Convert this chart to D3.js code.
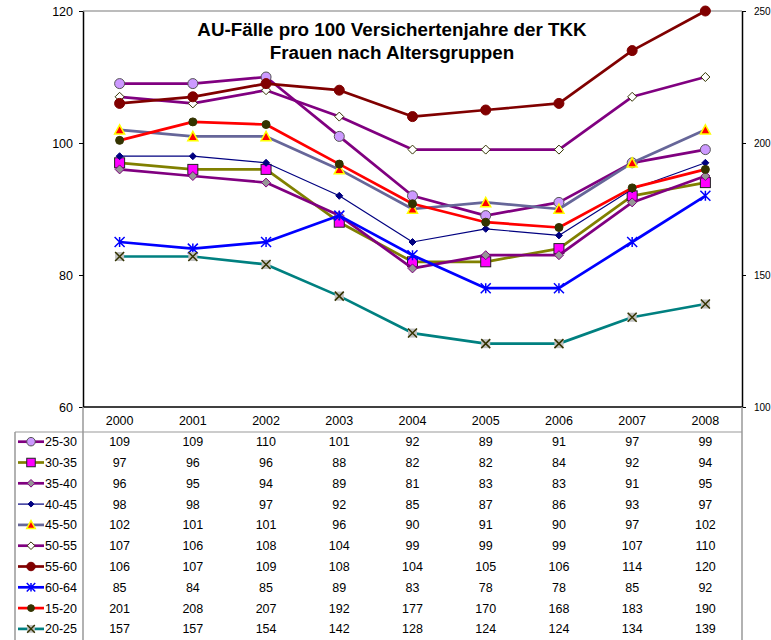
<!DOCTYPE html>
<html><head><meta charset="utf-8">
<script src="https://cdn.jsdelivr.net/npm/d3@7"></script>
<style>body{margin:0;background:#fff}svg{display:block;font-family:"Liberation Sans",Arial,sans-serif}</style>
</head><body>
<svg id="c" width="771" height="640" font-family="Liberation Sans, Arial, sans-serif"></svg>
<script>
const years = ["2000","2001","2002","2003","2004","2005","2006","2007","2008"];
const seriesNames = ["25-30","30-35","35-40","40-45","45-50","50-55","55-60","60-64","15-20","20-25"];
const v2530 = [109,109,110,101,92,89,91,97,99];
const v3035 = [97,96,96,88,82,82,84,92,94];
const v3540 = [96,95,94,89,81,83,83,91,95];
const v4045 = [98,98,97,92,85,87,86,93,97];
const v4550 = [102,101,101,96,90,91,90,97,102];
const v5055 = [107,106,108,104,99,99,99,107,110];
const v5560 = [106,107,109,108,104,105,106,114,120];
const v6064 = [85,84,85,89,83,78,78,85,92];
const v1520 = [201,208,207,192,177,170,168,183,190];
const v2025 = [157,157,154,142,128,124,124,134,139];
const leftTicks = [60,80,100,120];
const rightTicks = [100,150,200,250];
const titleLines = ["AU-Fälle pro 100 Versichertenjahre der TKK","Frauen nach Altersgruppen"];

const seriesValues = [v2530,v3035,v3540,v4045,v4550,v5055,v5560,v6064,v1520,v2025];
const styles = [
  {line:"#800080", w:2.7, m:"circle", fill:"#CC99FF", stroke:"#555", size:10, axis:"L"},
  {line:"#808000", w:2.7, m:"square", fill:"#FF00FF", stroke:"#222", size:10, axis:"L"},
  {line:"#800080", w:2.7, m:"diamond", fill:"#969696", stroke:"#800080", size:9, axis:"L"},
  {line:"#000080", w:1.2, m:"diamond", fill:"#000080", stroke:"#000080", size:7, axis:"L"},
  {line:"#666699", w:2.7, m:"triangle", fill:"#FF0000", stroke:"#FFFF00", size:10, axis:"L"},
  {line:"#800080", w:2.7, m:"diamond", fill:"#FFFFFF", stroke:"#333300", size:9, axis:"L"},
  {line:"#800000", w:2.7, m:"circle", fill:"#800000", stroke:"#800000", size:10, axis:"L"},
  {line:"#0000FF", w:2.7, m:"star", fill:"none", stroke:"#0000FF", size:10, axis:"L"},
  {line:"#FF0000", w:2.7, m:"circle", fill:"#333300", stroke:"#333300", size:8, axis:"R"},
  {line:"#008080", w:2.7, m:"xsquare", fill:"#C0C0C0", stroke:"#333300", size:9, axis:"R"}
];

const svg = d3.select("#c");
const L = 83, R = 742, T = 11, B = 407;
const x = d3.scaleBand().domain(years).range([L,R]);
const yL = d3.scaleLinear().domain([60,120]).range([B,T]);
const yR = d3.scaleLinear().domain([100,250]).range([B,T]);

svg.append("line").attr("x1",L).attr("x2",R).attr("y1",yL(120)).attr("y2",yL(120)).attr("stroke","#a6a6a6").attr("stroke-width",1.5);

const gL = svg.append("g").attr("transform",`translate(${L},0)`)
  .call(d3.axisLeft(yL).tickValues(leftTicks).tickSize(4).tickSizeOuter(0).tickPadding(6));
gL.attr("font-family","Liberation Sans, Arial, sans-serif");
gL.selectAll("text").attr("font-size",12.5).attr("fill","#000");
gL.select(".domain").attr("stroke","#000").attr("stroke-width",1.5);
const gR = svg.append("g").attr("transform",`translate(${R},0)`)
  .call(d3.axisRight(yR).tickValues(rightTicks).tickSize(4).tickSizeOuter(0).tickPadding(8));
gR.attr("font-family","Liberation Sans, Arial, sans-serif");
gR.selectAll("text").attr("font-size",10).attr("fill","#000");
gR.select(".domain").attr("stroke","#000").attr("stroke-width",1.5);
svg.append("line").attr("x1",L).attr("x2",R).attr("y1",B).attr("y2",B).attr("stroke","#000").attr("stroke-width",1.5);

svg.append("text").attr("x",392).attr("y",36).attr("text-anchor","middle").attr("font-weight","bold").attr("font-size",18.8).text(titleLines[0]);
svg.append("text").attr("x",392).attr("y",59).attr("text-anchor","middle").attr("font-weight","bold").attr("font-size",18.8).text(titleLines[1]);

function drawMarker(g, st, cx, cy, scale) {
  const s = st.size*(scale||1);
  const h = s/2;
  if (st.m === "circle") {
    g.append("circle").attr("cx",cx).attr("cy",cy).attr("r",h).attr("fill",st.fill).attr("stroke",st.stroke).attr("stroke-width",1);
  } else if (st.m === "square") {
    g.append("rect").attr("x",cx-h).attr("y",cy-h).attr("width",s).attr("height",s).attr("fill",st.fill).attr("stroke",st.stroke).attr("stroke-width",1);
  } else if (st.m === "diamond") {
    g.append("path").attr("d",`M${cx},${cy-h}L${cx+h},${cy}L${cx},${cy+h}L${cx-h},${cy}Z`).attr("fill",st.fill).attr("stroke",st.stroke).attr("stroke-width",1);
  } else if (st.m === "triangle") {
    g.append("path").attr("d",`M${cx},${cy-h}L${cx+h},${cy+h*0.85}L${cx-h},${cy+h*0.85}Z`).attr("fill",st.fill).attr("stroke",st.stroke).attr("stroke-width",1.5);
  } else if (st.m === "star") {
    g.append("path").attr("d",`M${cx-h},${cy-h}L${cx+h},${cy+h}M${cx-h},${cy+h}L${cx+h},${cy-h}M${cx},${cy-h}L${cx},${cy+h}`).attr("fill","none").attr("stroke",st.stroke).attr("stroke-width",1.5);
  } else if (st.m === "xsquare") {
    g.append("rect").attr("x",cx-h).attr("y",cy-h).attr("width",s).attr("height",s).attr("fill",st.fill).attr("stroke","none");
    g.append("path").attr("d",`M${cx-h},${cy-h}L${cx+h},${cy+h}M${cx-h},${cy+h}L${cx+h},${cy-h}`).attr("fill","none").attr("stroke",st.stroke).attr("stroke-width",1.5);
  }
}

const cxf = d => x(d) + x.bandwidth()/2;
seriesValues.forEach((vals,i) => {
  const st = styles[i];
  const ys = st.axis === "L" ? yL : yR;
  const g = svg.append("g");
  const line = d3.line().x((d,j)=>cxf(years[j])).y(d=>ys(d));
  g.append("path").attr("d",line(vals)).attr("fill","none").attr("stroke",st.line).attr("stroke-width",st.w).attr("stroke-linejoin","round");
  vals.forEach((v,j)=> drawMarker(g, st, cxf(years[j]), ys(v)));
});

const headerLine = 432, rowH = 20.8, firstRow = 441.7, tLeft = 15;
const tg = svg.append("g");
tg.append("line").attr("x1",tLeft).attr("x2",R).attr("y1",headerLine).attr("y2",headerLine).attr("stroke","#bbb").attr("stroke-width",1.5);
tg.append("line").attr("x1",tLeft).attr("x2",tLeft).attr("y1",headerLine).attr("y2",640).attr("stroke","#999").attr("stroke-width",1.5);
tg.append("line").attr("x1",L).attr("x2",L).attr("y1",B).attr("y2",640).attr("stroke","#999").attr("stroke-width",1.5);
tg.append("line").attr("x1",R).attr("x2",R).attr("y1",B).attr("y2",640).attr("stroke","#999").attr("stroke-width",1.5);
years.forEach(yv => {
  tg.append("text").attr("x",cxf(yv)).attr("y",424.5).attr("text-anchor","middle").attr("font-size",12.5).text(yv);
});
seriesValues.forEach((vals,i)=>{
  const cy = firstRow + i*rowH;
  const st = styles[i];
  tg.append("line").attr("x1",18).attr("x2",44).attr("y1",cy).attr("y2",cy).attr("stroke",st.line).attr("stroke-width",st.w);
  drawMarker(tg, st, 31, cy, 0.85);
  tg.append("text").attr("x",45).attr("y",cy+4.5).attr("font-size",12.5).text(seriesNames[i]);
  vals.forEach((v,j)=>{
    tg.append("text").attr("x",cxf(years[j])).attr("y",cy+4.5).attr("text-anchor","middle").attr("font-size",12.5).text(v);
  });
});
</script>
</body></html>
